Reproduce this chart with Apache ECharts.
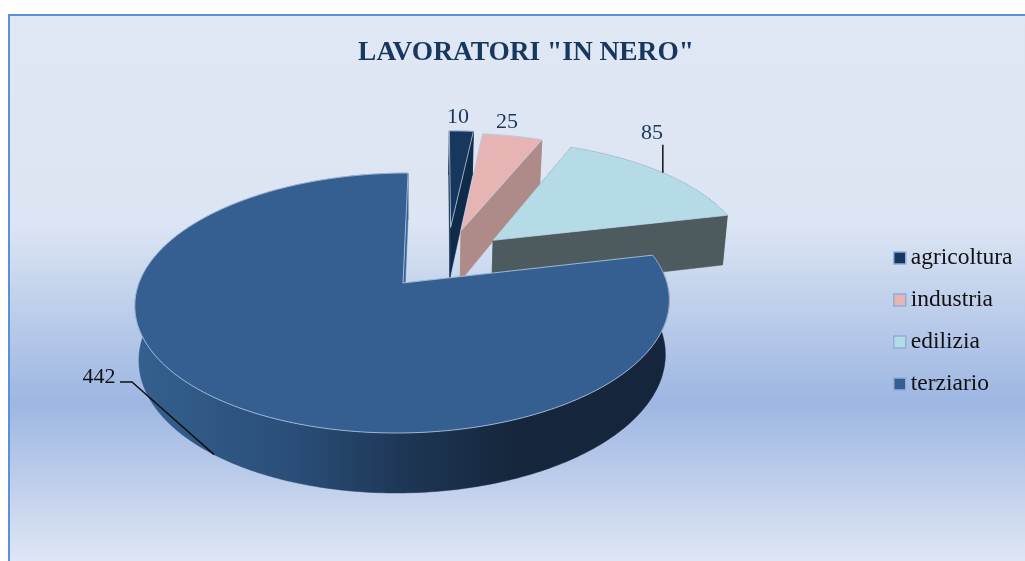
<!DOCTYPE html>
<html>
<head>
<meta charset="utf-8">
<title>LAVORATORI "IN NERO"</title>
<style>
    html, body { margin: 0; padding: 0; background: #fff; }
    #chart { width: 1025px; height: 561px; }
</style>
<script src="https://cdn.jsdelivr.net/npm/echarts@6/dist/echarts.min.js"></script>
</head>
<body>
<div id="chart"></div>
<script>
'use strict';

var chartTitle = 'LAVORATORI "IN NERO"';
var categories = ['agricoltura', 'industria', 'edilizia', 'terziario'];
var values = [10, 25, 85, 442];

var topColors = ['#17375E', '#E6B5B3', '#B5DBE6', '#355E91'];
var wallColors = ['#102B4A', '#AE8B88', '#4D5B5F', '#3A6698'];

// how far each slice is pulled out of the pie, in disc units
var explodeU = [0.183, 0.225, 0.352, 0];
var explodeV = [-0.47, -0.44, -0.3545, 0];

// the page places the number next to its leader line
var labelPos = [[458, 117], [507, 122], [652, 133], [99, 377]];
var labelColors = ['#17375E', '#17375E', '#17375E', '#111111'];

var fontFamily = '"Liberation Serif", serif';
var CX = 403, CY = 283, R = 264, H = 126.9, K = 0.154, SKEW = -0.022;

var total = values.reduce(function (a, b) { return a + b; }, 0);

// disc coordinates -> screen, with the perspective of the tilted pie
function project(u, v) {
    var w = 1 - K * v;
    return [CX + R * (u + SKEW * v) / w, CY + H * v / w];
}

function projectBottom(u, v) {
    var p = project(u, v);
    return [CX + (p[0] - CX) * 0.985, p[1] + 53.5 + 6.5 * v];
}

function sliceRange(index) {
    var before = 0;
    for (var i = 0; i < index; i++) {
        before += values[i];
    }
    return [before / total * 360, (before + values[index]) / total * 360];
}

function discPoint(index, deg) {
    var rad = deg * Math.PI / 180;
    return [explodeU[index] + Math.sin(rad), explodeV[index] - Math.cos(rad)];
}

function arc(index, from, to, fn) {
    var points = [];
    var steps = Math.max(2, Math.ceil(Math.abs(to - from)));
    for (var i = 0; i <= steps; i++) {
        var d = discPoint(index, from + (to - from) * i / steps);
        points.push(fn(d[0], d[1]));
    }
    return points;
}

function polygon(points, fill, stroke) {
    return {
        type: 'polygon',
        shape: { points: points },
        style: { fill: fill, stroke: stroke || fill, lineWidth: stroke ? 1 : 0.5 }
    };
}

function wallFill(index) {
    if (index !== 3) {
        return wallColors[index];
    }
    return {
        type: 'linear', x: 134, y: 0, x2: 670, y2: 0, global: true,
        colorStops: [
            { offset: 0, color: '#34608F' },
            { offset: 0.3, color: '#2A4E78' },
            { offset: 0.5, color: '#1E3756' },
            { offset: 0.7, color: '#16273D' },
            { offset: 1, color: '#15263C' }
        ]
    };
}

function renderSlice(params) {
    var index = params.seriesIndex;
    var range = sliceRange(index);
    var apexU = explodeU[index], apexV = explodeV[index];
    var topArc = arc(index, range[0], range[1], project);
    var bottomArc = arc(index, range[0], range[1], projectBottom);
    var apexTop = project(apexU, apexV);
    var apexBottom = projectBottom(apexU, apexV);
    var last = topArc.length - 1;
    var children = [];

    // walls first, top face over them
    children.push(polygon([apexTop, topArc[0], bottomArc[0], apexBottom], wallColors[index]));
    children.push(polygon(topArc.concat(bottomArc.slice().reverse()), wallFill(index)));
    children.push(polygon([apexTop, topArc[last], bottomArc[last], apexBottom], wallColors[index]));
    children.push(polygon([apexTop].concat(topArc), topColors[index], 'rgba(190,212,238,0.75)'));

    // leader lines only for the two labels that have one
    var mid = (range[0] + range[1]) / 2;
    var d = discPoint(index, mid);
    if (index === 2) {
        var onArc = project(d[0], d[1]);
        children.push({
            type: 'polyline',
            shape: { points: [[onArc[0], onArc[1] - 28], onArc] },
            style: { fill: null, stroke: '#111', lineWidth: 1.5 }
        });
    }
    if (index === 3) {
        var onBase = projectBottom(d[0], d[1]);
        children.push({
            type: 'polyline',
            shape: { points: [[120, 382], [132, 382], onBase] },
            style: { fill: null, stroke: '#111', lineWidth: 1.5 }
        });
    }

    children.push({
        type: 'text',
        x: labelPos[index][0],
        y: labelPos[index][1],
        style: {
            text: String(values[index]),
            fill: labelColors[index],
            font: '22px ' + fontFamily,
            align: 'center',
            verticalAlign: 'middle'
        }
    });

    return { type: 'group', children: children };
}

var series = categories.map(function (name, i) {
    return {
        type: 'custom',
        name: name,
        coordinateSystem: 'none',
        renderItem: renderSlice,
        itemStyle: { color: topColors[i] },
        silent: true,
        data: [values[i]]
    };
});

var chart = echarts.init(document.getElementById('chart'));
chart.setOption({
    animation: false,
    backgroundColor: '#fff',
    title: {
        text: chartTitle,
        left: 521,
        top: 34,
        textAlign: 'center',
        textStyle: { fontFamily: fontFamily, fontSize: 27.4, fontWeight: 'bold', color: '#17375E' }
    },
    legend: {
        orient: 'vertical',
        left: 888,
        top: 241,
        itemWidth: 12,
        itemHeight: 12,
        itemGap: 18,
        icon: 'rect',
        selectedMode: false,
        data: categories.map(function (name, i) {
            return {
                name: name,
                itemStyle: { color: topColors[i], borderColor: '#8FAEDB', borderWidth: 1.5 }
            };
        }),
        textStyle: { fontFamily: fontFamily, fontSize: 23.5, color: '#111', padding: [0, 0, 0, 0] }
    },
    graphic: [{
        type: 'rect',
        z: -10,
        silent: true,
        shape: { x: 9, y: 15, width: 1040, height: 570 },
        style: {
            stroke: '#5B8FD9',
            lineWidth: 2,
            fill: {
                type: 'linear', x: 0, y: 15, x2: 0, y2: 561, global: true,
                colorStops: [
                    { offset: 0, color: '#E0E7F4' },
                    { offset: 0.38, color: '#DCE5F3' },
                    { offset: 0.71, color: '#9DB6E2' },
                    { offset: 1, color: '#DFE6F4' }
                ]
            }
        }
    }],
    series: series
});
</script>
</body>
</html>
